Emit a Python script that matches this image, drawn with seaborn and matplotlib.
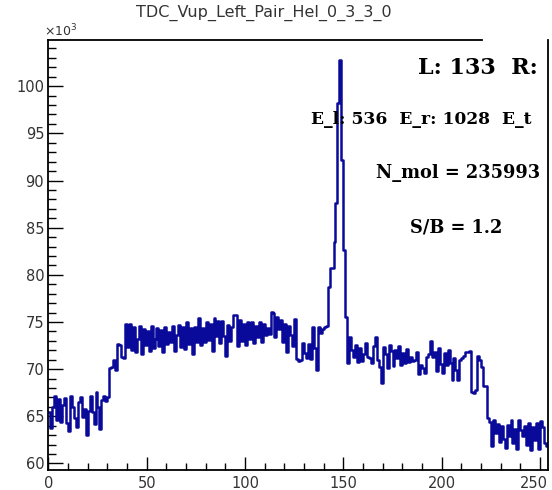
import numpy as np
import pandas as pd
import matplotlib
matplotlib.use("Agg")
import matplotlib.pyplot as plt
import matplotlib.transforms as mtransforms
from matplotlib.ticker import MultipleLocator
import seaborn as sns

# ---------------- data (counts in units of 10^3, one value per unit-wide bin) -------------
bin_edges = list(range(0, 255))
counts_k = [
    65.5, 63.8, 66.0, 67.1, 64.6, 66.8, 64.4, 66.2, 66.9, 64.3,
    63.4, 67.2, 66.0, 64.8, 63.9, 66.5, 67.0, 64.9, 65.8, 63.0,
    65.6, 67.1, 65.4, 64.2, 67.6, 66.0, 63.7, 66.7, 67.2, 66.6,
    67.0, 70.1, 70.2, 71.0, 69.9, 72.7, 72.6, 71.3, 71.2, 74.8,
    72.3, 74.8, 72.0, 74.5, 71.8, 73.2, 74.6, 71.6, 74.3, 72.6,
    74.0, 71.9, 74.6, 72.2, 73.2, 74.4, 72.4, 74.1, 71.8, 74.5,
    72.7, 73.9, 72.9, 74.6, 71.9, 73.6, 74.7, 72.3, 74.5, 72.1,
    75.0, 72.7, 74.4, 71.6, 74.5, 72.9, 75.4, 72.6, 74.4, 72.9,
    75.0, 73.1, 74.8, 71.9, 75.4, 73.5, 75.1, 72.8, 75.1, 73.5,
    71.4, 74.7, 73.0, 74.5, 75.7, 75.7, 72.4, 75.2, 73.0, 74.8,
    72.6, 75.0, 73.2, 75.0, 72.8, 74.6, 73.4, 75.0, 72.9, 74.8,
    73.6, 74.4, 73.7, 76.1, 76.0, 73.4, 75.5, 74.2, 75.2, 72.9,
    74.8, 71.8, 74.6, 73.6, 72.5, 75.3, 71.1, 70.9, 71.0, 72.8,
    71.7, 71.2, 72.7, 71.1, 74.5, 72.2, 69.9, 74.5, 73.8, 74.2,
    74.5, 74.6, 78.7, 80.7, 80.7, 83.5, 87.6, 98.2, 102.8, 92.2,
    82.6, 75.5, 70.6, 73.4, 72.0, 71.3, 72.6, 70.8, 72.2, 70.9,
    71.6, 72.8, 71.3, 71.2, 70.6, 72.5, 73.4, 71.0, 70.2, 68.5,
    72.3, 71.6, 70.1, 72.6, 71.9, 70.3, 72.0, 71.2, 72.4, 70.4,
    71.7, 70.6, 72.1, 70.7, 71.3, 70.9, 71.0, 71.8, 69.5, 70.4,
    70.1, 69.6, 71.3, 71.6, 73.0, 71.3, 71.8, 69.8, 72.2, 70.5,
    69.6, 71.7, 70.4, 72.0, 70.6, 68.8, 71.2, 69.9, 68.8, 71.0,
    71.2, 71.4, 71.8, 71.8, 71.9, 67.6, 67.5, 67.8, 71.4, 71.0,
    70.2, 68.2, 68.2, 64.8, 64.4, 61.8, 64.6, 63.2, 64.2, 62.3,
    64.0, 62.6, 61.6, 64.1, 62.9, 64.6, 62.2, 63.6, 61.5, 64.6,
    63.5, 62.9, 64.0, 62.0, 64.3, 61.4, 63.9, 62.5, 64.3, 61.5,
    64.5, 63.9, 62.2, 61.8,
]
title_text = "TDC_Vup_Left_Pair_Hel_0_3_3_0"
x_ticks = [0, 50, 100, 150, 200, 250]
y_ticks = [60, 65, 70, 75, 80, 85, 90, 95, 100]
box_lines = ["L: 133  R:", "E_l: 536  E_r: 1028  E_t",
             "N_mol = 235993", "S/B = 1.2"]

centers = [e + 0.5 for e in bin_edges[:-1]]
df = pd.DataFrame({"tdc": centers, "counts": counts_k})

# ---------------- figure ----------------
W, H = 552, 490
fig = plt.figure(figsize=(W / 100, H / 100), dpi=100)
fig.patch.set_facecolor("white")
ax = fig.add_axes([48.3 / W, 1 - 470 / H, 499.6 / W, 430 / H])
ax.set_facecolor("white")

sns.histplot(data=df, x="tdc", weights="counts", bins=bin_edges,
             element="step", fill=False, color="#0a0a9a", linewidth=1.8, ax=ax)

ax.set_xlim(0, 254)
ax.set_ylim(59.3, 104.9)
ax.set_xlabel("")
ax.set_ylabel("")
ax.set_xticks(x_ticks)
ax.set_yticks(y_ticks)
ax.xaxis.set_minor_locator(MultipleLocator(10))
ax.yaxis.set_minor_locator(MultipleLocator(1))
ax.tick_params(axis="x", which="major", direction="in", length=9.4, width=1.0,
               labelsize=10.5, labelcolor="#333333", pad=4, top=False)
ax.tick_params(axis="x", which="minor", direction="in", length=4.7, width=1.0, top=False)
ax.tick_params(axis="y", which="major", direction="in", length=10.8, width=1.0,
               labelsize=10.5, labelcolor="#333333", pad=3, right=False)
ax.tick_params(axis="y", which="minor", direction="in", length=5.4, width=1.0, right=False)
for lab in ax.get_xticklabels() + ax.get_yticklabels():
    lab.set_family("DejaVu Sans")
# keep the last x label inside the picture
last = ax.get_xticklabels()[-1]
last.set_transform(last.get_transform() +
                   mtransforms.ScaledTranslation(-6 / 100, 0, fig.dpi_scale_trans))

for side in ["left", "bottom", "right", "top"]:
    ax.spines[side].set_visible(True)
    ax.spines[side].set_color("black")
    ax.spines[side].set_linewidth(1.3)
# the statistics pave hides the top frame on the right
ax.spines["top"].set_bounds(0, (482 - 48.3) / 1.967)

# ---------------- texts ----------------
fig.text(264 / W, 1 - 13 / H, title_text, ha="center", va="center",
         fontsize=11.5, color="#333333", family="DejaVu Sans")
fig.text(44 / W, 1 - 36 / H, r"$\times10^{3}$", ha="left", va="baseline",
         fontsize=9, color="#333333")

def px_to_axes(xp, yp):
    return ((xp - 48.3) / 499.6, (470 - yp) / 430)

specs = [
    (box_lines[0], 418, 67.5, 16),
    (box_lines[1], 311, 120, 12.3),
    (box_lines[2], 376, 173, 12.8),
    (box_lines[3], 410, 227, 12.8),
]
for txt, xp, yp, fs in specs:
    xa, ya = px_to_axes(xp, yp)
    ax.text(xa, ya, txt, transform=ax.transAxes, ha="left", va="center",
            fontsize=fs, fontweight="bold", family="DejaVu Serif",
            color="black", clip_on=False, zorder=5)

fig.savefig("out.png", dpi=100, facecolor="white")
